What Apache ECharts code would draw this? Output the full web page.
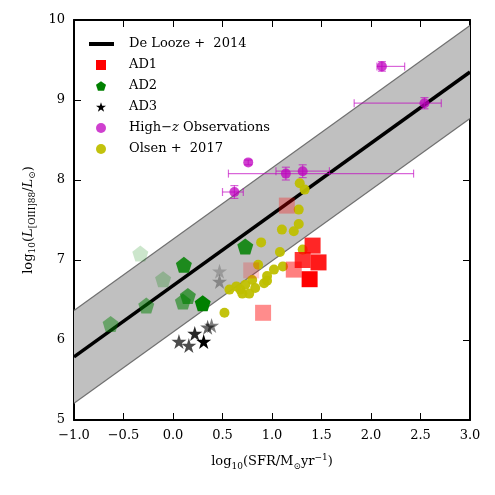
<!DOCTYPE html>
<html>
<head>
<meta charset="utf-8">
<script src="https://cdn.jsdelivr.net/npm/echarts@6/dist/echarts.min.js"></script>
<style>
  html, body { margin: 0; padding: 0; background: #fff; }
  #chart { width: 495px; height: 495px; }
</style>
</head>
<body>
<div id="chart"></div>
<script>
// De Looze + 2014 relation and its scatter band
const deLoozeX = [-1, 3]
const deLoozeY = [5.79, 9.35]
const bandLower = [5.21, 8.77]
const bandUpper = [6.37, 9.93]

// AD1 / AD2 / AD3 runs (alpha per point)
const ad1X = [1.15, 0.79, 0.91, 1.41, 1.47, 1.31, 1.22, 1.38]
const ad1Y = [7.68, 6.87, 6.34, 7.18, 6.97, 7.00, 6.88, 6.76]
const ad1Alpha = [0.3, 0.2, 0.45, 0.85, 0.9, 0.8, 0.5, 1.0]

const ad2X = [-0.33, 0.11, -0.10, 0.15, 0.10, 0.30, -0.27, -0.63, 0.73]
const ad2Y = [7.08, 6.94, 6.76, 6.55, 6.48, 6.46, 6.43, 6.20, 7.17]
const ad2Alpha = [0.2, 0.85, 0.25, 0.65, 0.55, 1.0, 0.5, 0.45, 0.85]

const ad3X = [0.06, 0.16, 0.22, 0.31, 0.35, 0.39, 0.47, 0.47]
const ad3Y = [5.98, 5.93, 6.08, 5.98, 6.16, 6.18, 6.86, 6.73]
const ad3Alpha = [0.7, 0.7, 0.85, 1.0, 0.6, 0.5, 0.2, 0.3]

// High-z observations with error bars
const hzX = [2.11, 2.54, 0.76, 1.14, 1.31, 0.62]
const hzY = [9.42, 8.96, 8.22, 8.08, 8.11, 7.85]
const hzXLo = [2.06, 1.83, 0.76, 0.56, 1.04, 0.50]
const hzXHi = [2.34, 2.71, 0.76, 2.43, 1.58, 0.71]
const hzYErr = [0.06, 0.07, 0.03, 0.08, 0.08, 0.08]

// Olsen + 2017
const olX = [1.28, 1.33, 1.27, 1.27, 1.22, 1.10, 0.89, 1.08, 1.31, 1.11, 1.02, 0.95, 0.86, 0.95, 0.80, 0.83, 0.73, 0.77, 0.68, 0.64, 0.57, 0.70, 0.52, 0.92]
const olY = [7.96, 7.88, 7.63, 7.45, 7.36, 7.38, 7.22, 7.10, 7.13, 6.92, 6.88, 6.80, 6.94, 6.74, 6.75, 6.65, 6.69, 6.58, 6.63, 6.67, 6.63, 6.58, 6.34, 6.71]

const xTicks = { min: -1, max: 3, interval: 0.5 }
const yTicks = { min: 5, max: 10, interval: 1 }

const FONT = 'DejaVu Serif'
const PENTAGON = 'path://M50,0 L97.6,34.5 L79.4,90.5 L20.6,90.5 L2.4,34.5 Z'
const STAR = 'path://M50,0 L61.2,34.5 L97.6,34.5 L68.2,55.9 L79.4,90.5 L50,69.1 L20.6,90.5 L31.8,55.9 L2.4,34.5 L38.8,34.5 Z'

const withAlpha = (xs, ys, alphas) =>
  xs.map((x, i) => ({ value: [x, ys[i]], itemStyle: { opacity: alphas[i] } }))

const fmtTick = (v, digits) => {
  const s = Math.abs(v).toFixed(digits)
  return v < 0 ? '\u2212' + s : s
}

const chart = echarts.init(document.getElementById('chart'))

const axisCommon = {
  type: 'value',
  axisLine: { onZero: false, lineStyle: { color: '#000', width: 2 } },
  axisTick: { inside: true, length: 7, lineStyle: { color: '#000', width: 1 } },
  splitLine: { show: false },
}

const richText = {
  n: { fontFamily: FONT, fontSize: 13, color: '#000', lineHeight: 18, verticalAlign: 'middle' },
  i: { fontFamily: FONT, fontSize: 13, color: '#000', fontStyle: 'italic', lineHeight: 18, verticalAlign: 'middle' },
  sub: { fontFamily: FONT, fontSize: 9, color: '#000', lineHeight: 9, verticalAlign: 'bottom' },
  sup: { fontFamily: FONT, fontSize: 9, color: '#000', lineHeight: 9, verticalAlign: 'top' },
}

const option = {
  backgroundColor: '#fff',
  animation: false,
  grid: { left: 74, right: 25, top: 20, bottom: 75 },
  legend: [
    {
      data: [{ name: 'De Looze + 2014', icon: 'rect' }],
      formatter: () => 'De Looze +  2014',
      left: 89,
      top: 37,
      padding: 0,
      itemWidth: 25,
      itemHeight: 4,
      textStyle: { fontFamily: FONT, fontSize: 13, color: '#000', lineHeight: 14, padding: [0, 0, 0, 10] },
    },
    {
      data: [
        { name: 'AD1', icon: 'rect' },
        { name: 'AD2', icon: PENTAGON },
        { name: 'AD3', icon: STAR },
        { name: 'High\u2212z Observations', icon: 'circle' },
        { name: 'Olsen + 2017', icon: 'circle' },
      ],
      orient: 'vertical',
      left: 96,
      top: 58,
      padding: 0,
      itemGap: 7,
      itemWidth: 10,
      itemHeight: 10,
      formatter: (name) => {
        if (name === 'High\u2212z Observations') return '{n|High\u2212}{i|z}{n| Observations}'
        if (name === 'Olsen + 2017') return '{n|Olsen +  2017}'
        return '{n|' + name + '}'
      },
      textStyle: {
        fontFamily: FONT, fontSize: 13, color: '#000', lineHeight: 14, padding: [0, 0, 0, 18],
        rich: {
          n: { fontFamily: FONT, fontSize: 13, color: '#000' },
          i: { fontFamily: FONT, fontSize: 13, color: '#000', fontStyle: 'italic' },
        },
      },
    },
  ],
  xAxis: [
    {
      ...axisCommon,
      position: 'bottom',
      ...xTicks,
      axisLabel: { fontFamily: FONT, fontSize: 13, color: '#000', margin: 9, formatter: (v) => fmtTick(v, 1) },
      name: '{n|log}{sub|10}{n|(SFR/M}{sub|\u2299}{n|yr}{sup|\u22121}{n|)}',
      nameLocation: 'middle',
      nameGap: 33,
      nameTextStyle: { rich: richText },
    },
    {
      ...axisCommon,
      position: 'top',
      ...xTicks,
      axisLabel: { show: false },
    },
  ],
  yAxis: [
    {
      ...axisCommon,
      position: 'left',
      ...yTicks,
      axisLabel: { fontFamily: FONT, fontSize: 13, color: '#000', margin: 9, formatter: (v) => fmtTick(v, 0) },
      name: '{n|log}{sub|10}{n|(}{i|L}{sub|[OIII]88}{n|/}{i|L}{sub|\u2299}{n|)}',
      nameLocation: 'middle',
      nameRotate: 90,
      nameGap: 28,
      nameTextStyle: { rich: richText },
    },
    {
      ...axisCommon,
      position: 'right',
      ...yTicks,
      axisLabel: { show: false },
    },
  ],
  series: [
    {
      name: 'band',
      type: 'custom',
      silent: true,
      z: 1,
      data: deLoozeX.map((x, i) => [x, bandLower[i], bandUpper[i]]),
      renderItem: (params, api) => {
        if (params.dataIndex !== 0) return
        const lower = deLoozeX.map((x, i) => api.coord([x, bandLower[i]]))
        const upper = deLoozeX.map((x, i) => api.coord([x, bandUpper[i]]))
        return {
          type: 'group',
          children: [
            {
              type: 'polygon',
              shape: { points: lower.concat(upper.slice().reverse()) },
              style: { fill: '#c0c0c0', stroke: null },
            },
            { type: 'polyline', shape: { points: lower }, style: { stroke: '#707070', lineWidth: 1.2, fill: null } },
            { type: 'polyline', shape: { points: upper }, style: { stroke: '#707070', lineWidth: 1.2, fill: null } },
          ],
        }
      },
    },
    {
      name: 'De Looze + 2014',
      type: 'line',
      z: 2,
      symbol: 'none',
      data: deLoozeX.map((x, i) => [x, deLoozeY[i]]),
      lineStyle: { color: '#000', width: 3.5 },
      itemStyle: { color: '#000' },
    },
    {
      name: 'hz-errors',
      type: 'custom',
      silent: true,
      z: 3,
      data: hzX.map((x, i) => [x, hzY[i], hzXLo[i], hzXHi[i], hzY[i] - hzYErr[i], hzY[i] + hzYErr[i]]),
      renderItem: (params, api) => {
        const y = api.value(1)
        const left = api.coord([api.value(2), y])
        const right = api.coord([api.value(3), y])
        const bottom = api.coord([api.value(0), api.value(4)])
        const top = api.coord([api.value(0), api.value(5)])
        const st = { stroke: 'rgba(191,0,191,0.6)', lineWidth: 1.2 }
        const line = (x1, y1, x2, y2) => ({ type: 'line', shape: { x1, y1, x2, y2 }, style: st })
        const children = [
          line(bottom[0], bottom[1], top[0], top[1]),
          line(bottom[0] - 4, bottom[1], bottom[0] + 4, bottom[1]),
          line(top[0] - 4, top[1], top[0] + 4, top[1]),
        ]
        if (right[0] - left[0] > 1) {
          children.push(
            line(left[0], left[1], right[0], right[1]),
            line(left[0], left[1] - 4, left[0], left[1] + 4),
            line(right[0], right[1] - 4, right[0], right[1] + 4)
          )
        }
        return { type: 'group', children }
      },
    },
    {
      name: 'High\u2212z Observations',
      type: 'scatter',
      z: 4,
      symbol: 'circle',
      symbolSize: 10,
      data: hzX.map((x, i) => [x, hzY[i]]),
      itemStyle: { color: '#bf00bf', opacity: 0.75 },
    },
    {
      name: 'Olsen + 2017',
      type: 'scatter',
      z: 5,
      symbol: 'circle',
      symbolSize: 10,
      data: olX.map((x, i) => [x, olY[i]]),
      itemStyle: { color: '#bfbf00', opacity: 0.95 },
    },
    {
      name: 'AD1',
      type: 'scatter',
      z: 6,
      symbol: 'rect',
      symbolSize: 16,
      data: withAlpha(ad1X, ad1Y, ad1Alpha),
      itemStyle: { color: '#ff0000', opacity: 1 },
    },
    {
      name: 'AD2',
      type: 'scatter',
      z: 7,
      symbol: PENTAGON,
      symbolSize: 16,
      data: withAlpha(ad2X, ad2Y, ad2Alpha),
      itemStyle: { color: '#008000', opacity: 1 },
    },
    {
      name: 'AD3',
      type: 'scatter',
      z: 8,
      symbol: STAR,
      symbolSize: 15,
      data: withAlpha(ad3X, ad3Y, ad3Alpha),
      itemStyle: { color: '#000', opacity: 1 },
    },
  ],
}

chart.setOption(option)
</script>
</body>
</html>
